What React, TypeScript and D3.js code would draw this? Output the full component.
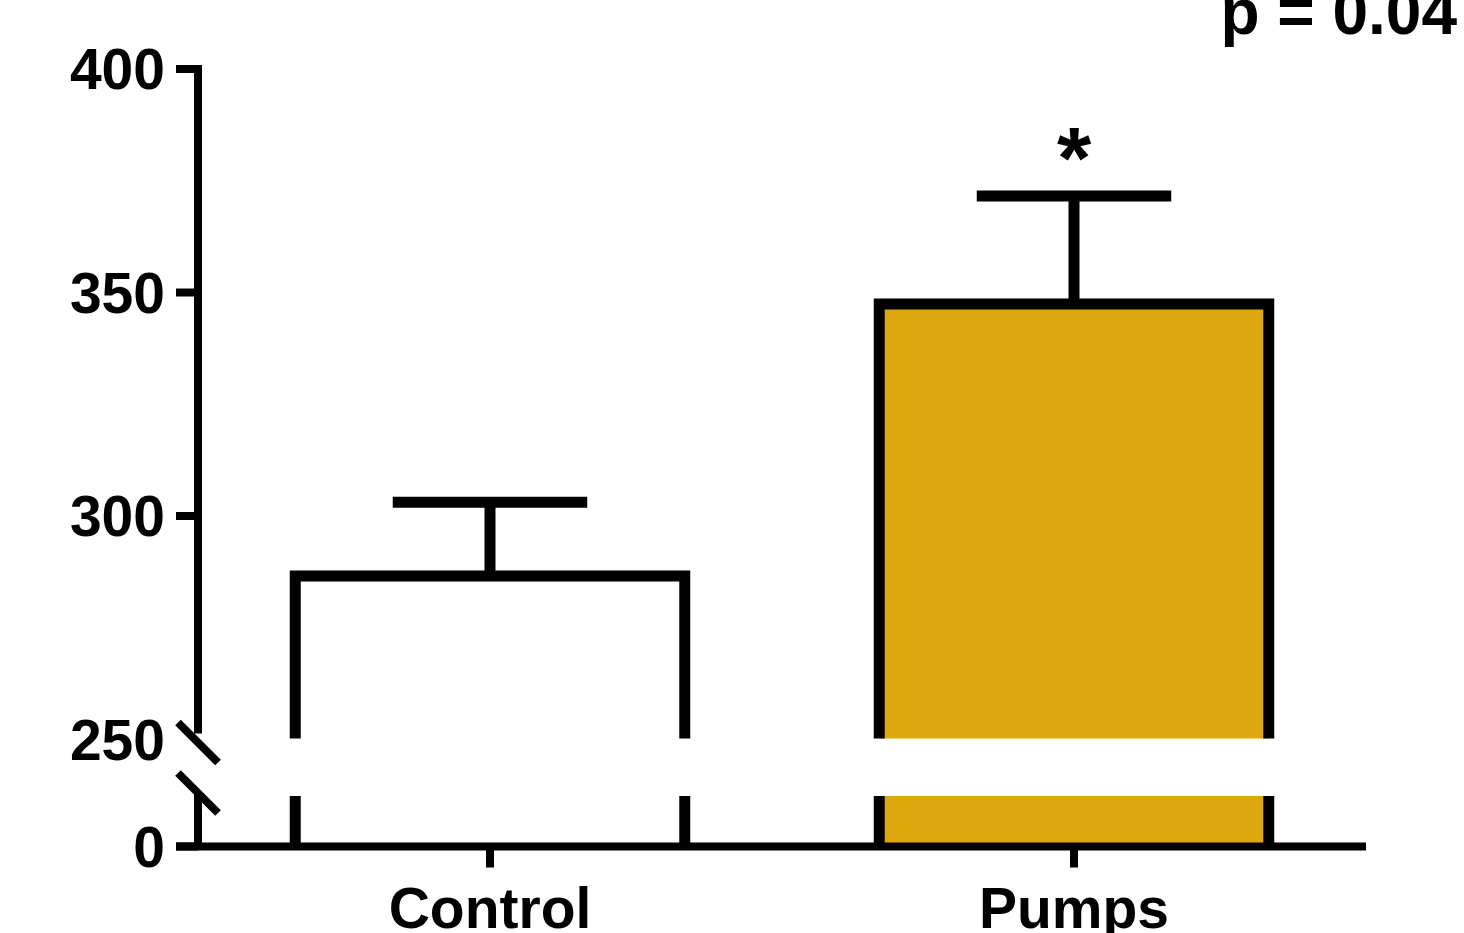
import React from "react";
import * as d3 from "d3";

// values
const categories = ["Control", "Pumps"];
const means = [286.6, 347.4];
const sems = [16.5, 24.2];
const barFills = ["#ffffff", "#dca80e"];
const significance = ["", "*"];
const upperTicks = [250, 300, 350, 400];
const lowerTicks = [0];
const pLabel = "p = 0.04";

const W = 1464;
const H = 933;
const font = "'Liberation Sans', Arial, Helvetica, sans-serif";

const App = () => {
  const axisX = 198;
  // split y axis: upper segment 250-400, lower segment 0-20
  const yUp = d3.scaleLinear().domain([250, 400]).range([739.5, 69]);
  const yLow = d3.scaleLinear().domain([0, 20]).range([846.5, 796]);
  const x = d3.scalePoint().domain(categories).range([axisX, 1366]).padding(0.5);
  const barW = x.step() * 0.667;
  const capW = x.step() * 0.333;

  const axisStroke = 8;
  const barStroke = 11;

  return (
    <svg width={W} height={H} style={{ position: "absolute", left: 0, top: 0, background: "#fff" }}>
      {/* bars */}
      {categories.map((c, i) => {
        const cx = x(c);
        const l = cx - barW / 2;
        const r = cx + barW / 2;
        const top = yUp(means[i]);
        const bottomUp = yUp(250) - 1;
        const errTop = yUp(means[i] + sems[i]);
        return (
          <g key={c}>
            {/* upper part */}
            <rect x={l} y={top} width={barW} height={bottomUp - top} fill={barFills[i]} />
            <path
              d={`M${l},${bottomUp}V${top}H${r}V${bottomUp}`}
              fill="none"
              stroke="#000"
              strokeWidth={barStroke}
              strokeLinejoin="miter"
            />
            {/* lower part */}
            <rect x={l} y={yLow(20)} width={barW} height={yLow(0) - yLow(20)} fill={barFills[i]} />
            <line x1={l} x2={l} y1={yLow(20)} y2={yLow(0)} stroke="#000" strokeWidth={barStroke} />
            <line x1={r} x2={r} y1={yLow(20)} y2={yLow(0)} stroke="#000" strokeWidth={barStroke} />
            {/* error bar */}
            <line x1={cx} x2={cx} y1={top} y2={errTop} stroke="#000" strokeWidth={barStroke} />
            <line x1={cx - capW / 2} x2={cx + capW / 2} y1={errTop} y2={errTop} stroke="#000" strokeWidth={barStroke} />
            {significance[i] && (
              <text
                x={cx}
                y={errTop - 8}
                textAnchor="middle"
                fontFamily={font}
                fontWeight="bold"
                fontSize={88}
              >
                {significance[i]}
              </text>
            )}
          </g>
        );
      })}

      {/* y axis, upper segment */}
      <line x1={axisX} x2={axisX} y1={yUp(400) - axisStroke / 2} y2={yUp(250) - 6} stroke="#000" strokeWidth={axisStroke} />
      {upperTicks.map((t) => (
        <g key={t}>
          {t !== 250 && (
            <line x1={axisX - 22} x2={axisX} y1={yUp(t)} y2={yUp(t)} stroke="#000" strokeWidth={axisStroke} />
          )}
          <text x={165} y={yUp(t) + 20} textAnchor="end" fontFamily={font} fontWeight="bold" fontSize={57}>
            {t}
          </text>
        </g>
      ))}
      {/* y axis, lower segment */}
      <line x1={axisX} x2={axisX} y1={yLow(20) - 1} y2={yLow(0)} stroke="#000" strokeWidth={axisStroke} />
      {lowerTicks.map((t) => (
        <g key={t}>
          <line x1={axisX - 22} x2={axisX} y1={yLow(t)} y2={yLow(t)} stroke="#000" strokeWidth={axisStroke} />
          <text x={165} y={yLow(t) + 20} textAnchor="end" fontFamily={font} fontWeight="bold" fontSize={57}>
            {t}
          </text>
        </g>
      ))}
      {/* break marks */}
      {[yUp(250) + 3, yLow(20) - 3].map((by, i) => (
        <line key={i} x1={axisX - 20} y1={by - 20} x2={axisX + 20} y2={by + 20} stroke="#000" strokeWidth={axisStroke} />
      ))}

      {/* x axis */}
      <line x1={axisX - 22} x2={1366} y1={yLow(0)} y2={yLow(0)} stroke="#000" strokeWidth={axisStroke} />
      {categories.map((c) => (
        <g key={c}>
          <line x1={x(c)} x2={x(c)} y1={yLow(0)} y2={yLow(0) + 21} stroke="#000" strokeWidth={axisStroke} />
          <text x={x(c)} y={928} textAnchor="middle" fontFamily={font} fontWeight="bold" fontSize={57}>
            {c}
          </text>
        </g>
      ))}

      <text x={1457} y={34} textAnchor="end" fontFamily={font} fontWeight="bold" fontSize={64}>
        {pLabel}
      </text>
    </svg>
  );
};

export default App;
